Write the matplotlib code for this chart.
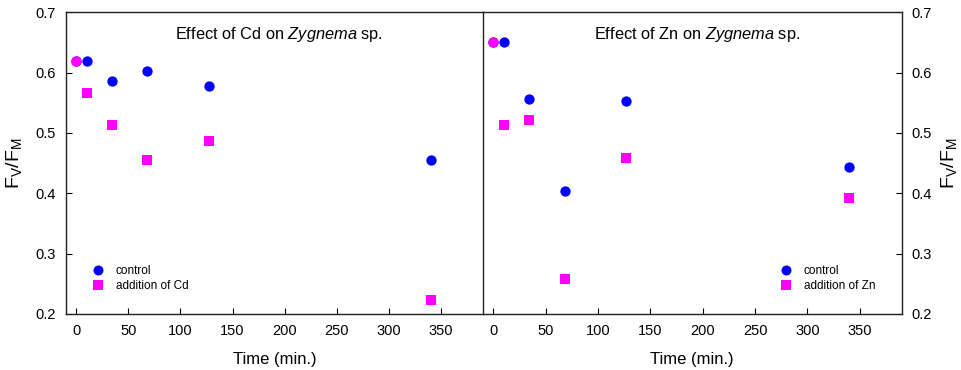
import matplotlib
matplotlib.use("Agg")
import matplotlib.pyplot as plt
from matplotlib.lines import Line2D

plt.rcParams['font.family'] = ['Liberation Sans', 'DejaVu Sans']
plt.rcParams['mathtext.fontset'] = 'custom'
plt.rcParams['mathtext.rm'] = 'Liberation Sans'
plt.rcParams['mathtext.it'] = 'Liberation Sans:italic'

# time points (min.)
times = [0, 10, 34, 68, 127, 340]

# Cd experiment
cd_control = [0.620, 0.620, 0.586, 0.602, 0.578, 0.455]
cd_added = [0.620, 0.566, 0.514, 0.455, 0.486, 0.224]

# Zn experiment
zn_control = [0.651, 0.651, 0.557, 0.403, 0.553, 0.444]
zn_added = [0.651, 0.514, 0.521, 0.258, 0.459, 0.392]

xticks = [0, 50, 100, 150, 200, 250, 300, 350]
yticks = [0.2, 0.3, 0.4, 0.5, 0.6, 0.7]

BLUE = '#0000ff'
MAGENTA = '#ff00ff'

fig = plt.figure(figsize=(9.62, 3.70), dpi=100)
ax1 = fig.add_axes([0.0683, 0.1514, 0.4337, 0.8154])
ax2 = fig.add_axes([0.5020, 0.1514, 0.4353, 0.8154])
ax2.patch.set_alpha(0)

ylab = r'F$_\mathregular{V}$/F$_\mathregular{M}$'

panels = [
    (ax1, cd_control, cd_added, 'Effect of Cd on $\\it{Zygnema}$ sp.'),
    (ax2, zn_control, zn_added, 'Effect of Zn on $\\it{Zygnema}$ sp.'),
]

for ax, ctrl, added, title in panels:
    ax.scatter(times, ctrl, s=55, marker='o', color=BLUE, zorder=3, linewidths=0)
    # first point (t=0) is shared, drawn as magenta circle on top
    ax.scatter(times[1:], added[1:], s=42, marker='s', color=MAGENTA, zorder=3, linewidths=0)
    ax.scatter(times[:1], added[:1], s=55, marker='o', color=MAGENTA, zorder=4, linewidths=0)

    ax.set_xlim(-10, 390)
    ax.set_ylim(0.2, 0.7)
    ax.set_xticks(xticks)
    ax.set_yticks(yticks)
    ax.set_yticklabels([f'{v:.1f}' for v in yticks])
    ax.tick_params(direction='in', length=4, width=0.8, labelsize=10.5, pad=7)
    ax.set_xlabel('Time (min.)', fontsize=12, labelpad=10)
    for sp in ax.spines.values():
        sp.set_linewidth(1.0)
        sp.set_color('#222222')
    ax.text(0.512, 0.925, title, transform=ax.transAxes, ha='center', va='center', fontsize=11.8)

ax1.tick_params(axis='y', left=True, right=False)
ax1.set_ylabel(ylab, fontsize=14, labelpad=8)

ax2.spines['left'].set_visible(False)
ax2.yaxis.tick_right()
ax2.yaxis.set_label_position('right')
ax2.tick_params(axis='y', left=False, right=True, direction='in')
ax2.set_ylabel(ylab, fontsize=14, labelpad=5)

def add_legend(ax, addlabel, anchor):
    handles = [
        Line2D([], [], linestyle='none', marker='o', color=BLUE, markersize=7.2, markeredgewidth=0),
        Line2D([], [], linestyle='none', marker='s', color=MAGENTA, markersize=6.5, markeredgewidth=0),
    ]
    ax.legend(handles, ['control', addlabel], loc='upper left', bbox_to_anchor=anchor,
              frameon=False, fontsize=8.5, handlelength=1.0, handletextpad=1.0,
              labelspacing=0.25, borderpad=0, borderaxespad=0)

add_legend(ax1, 'addition of Cd', (0.063, 0.162))
add_legend(ax2, 'addition of Zn', (0.71, 0.162))

fig.savefig('out.png', dpi=100)
